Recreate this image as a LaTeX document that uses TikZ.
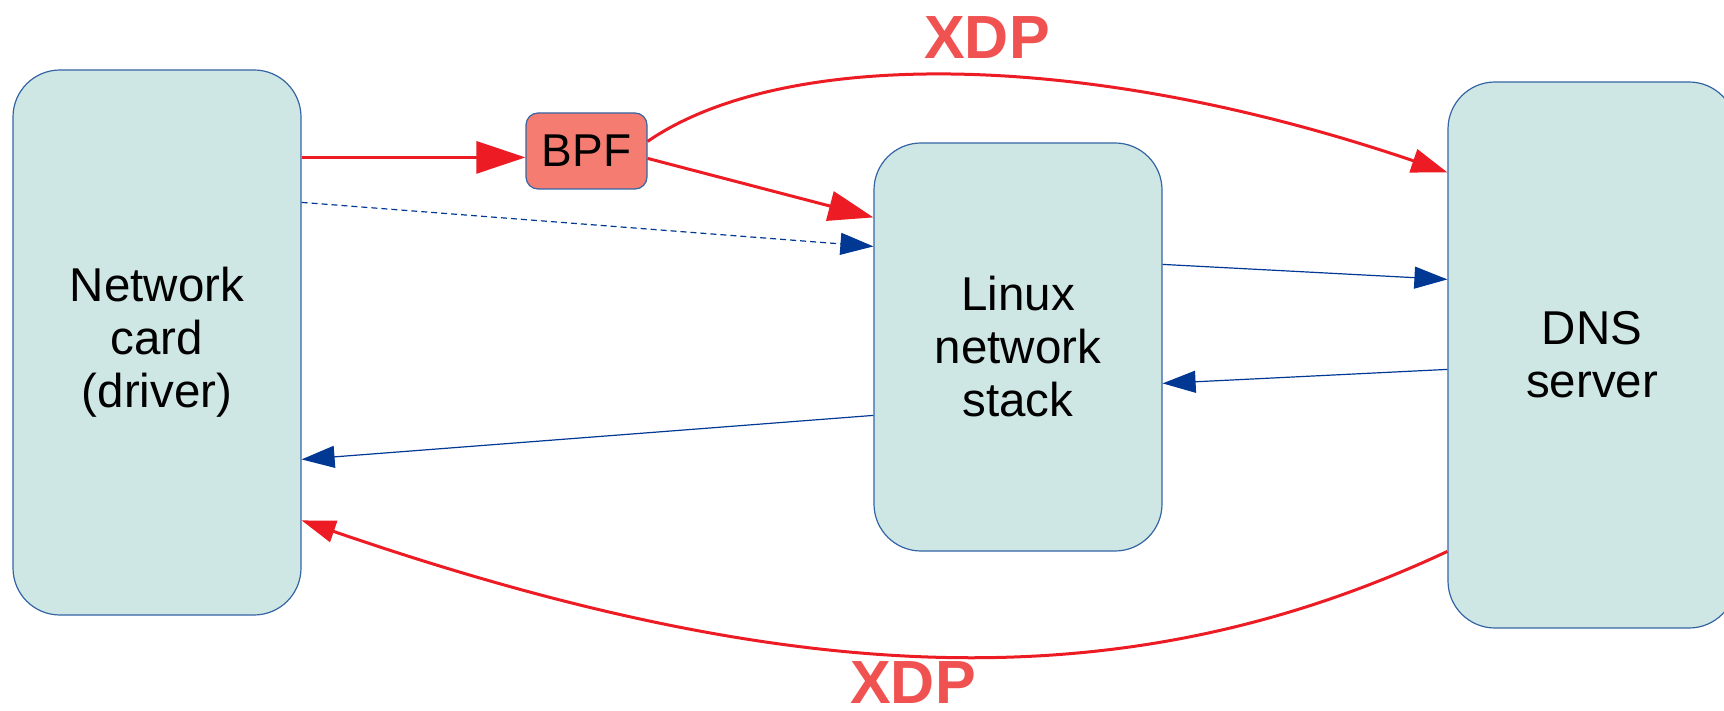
\documentclass[tikz,border=0pt]{standalone}
\usepackage{fontspec}
\setmainfont{Liberation Sans}
\usetikzlibrary{arrows.meta,calc}
\definecolor{boxfill}{RGB}{207,231,228}
\definecolor{boxline}{RGB}{52,101,164}
\definecolor{bpffill}{RGB}{244,124,112}
\definecolor{redline}{RGB}{237,28,36}
\definecolor{blueline}{RGB}{0,56,147}
\definecolor{xdpred}{RGB}{240,82,82}
\tikzset{
  block/.style={draw=boxline, line width=1.2pt, fill=boxfill, rounded corners=47pt,
    minimum width=288pt, inner sep=0pt, align=center,
    font=\fontsize{47.5}{53}\selectfont},
  bpfbox/.style={draw=boxline, line width=1.2pt, fill=bpffill, rounded corners=12pt,
    minimum width=121pt, minimum height=76pt, inner sep=0pt,
    font=\fontsize{46}{53}\selectfont},
  redarrow/.style={draw=redline, line width=3pt, -{Triangle[length=#1]}},
  bluearrow/.style={draw=blueline, line width=1.2pt, -{Triangle[length=33pt,width=22pt]}},
  xdplabel/.style={text=xdpred, font=\fontsize{61}{61}\selectfont\bfseries, inner sep=0pt, anchor=base}
}
\begin{document}
\begin{tikzpicture}[x=1pt,y=-1pt]
\useasboundingbox (0,0) rectangle (1724,711);
\clip (0,0) rectangle (1724,711);

% main blocks
\node[block, minimum height=545pt] (net) at (157,342.5) {Network\\card\\(driver)};
\node[block, minimum height=408pt] (lin) at (1018,347) {Linux\\network\\stack};
\node[block, minimum height=546pt] (dns) at (1592,355) {DNS\\server};
\node[bpfbox] (bpf) at (586.5,151) {BPF};

% BPF path
\draw[redarrow={49pt,width=32pt}] ($(net.north east)+(0,88)$) -- ($(bpf.north west)+(0,45)$);
\draw[redarrow={45pt,width=30pt}] ($(bpf.north east)+(0,46)$) -- ($(lin.north west)+(0,75)$);
\draw[redarrow={36pt,width=24pt}] ($(bpf.north east)+(0,29)$)
  .. controls +(135,-93) and +(-364,-124) .. ($(dns.north west)+(0,91)$);

% regular stack path
\draw[bluearrow, dashed, dash pattern=on 6pt off 4pt] ($(net.north east)+(0,133)$) -- ($(lin.north west)+(0,104)$);
\draw[bluearrow] ($(lin.north east)+(0,122)$) -- ($(dns.north west)+(0,198)$);
\draw[bluearrow] ($(dns.north west)+(0,288)$) -- ($(lin.north east)+(0,241)$);
\draw[bluearrow] ($(lin.north west)+(0,273)$) -- ($(net.north east)+(0,390)$);

% XDP return path
\draw[redarrow={34pt,width=22pt}] ($(dns.north west)+(0,470)$)
  .. controls +(-310,145) and +(511,176) .. ($(net.north east)+(0,451)$);

% labels
\node[xdplabel] (xdptop) at (987,59) {XDP};
\node[xdplabel] (xdpbot) at (913,703) {XDP};
\end{tikzpicture}
\end{document}
